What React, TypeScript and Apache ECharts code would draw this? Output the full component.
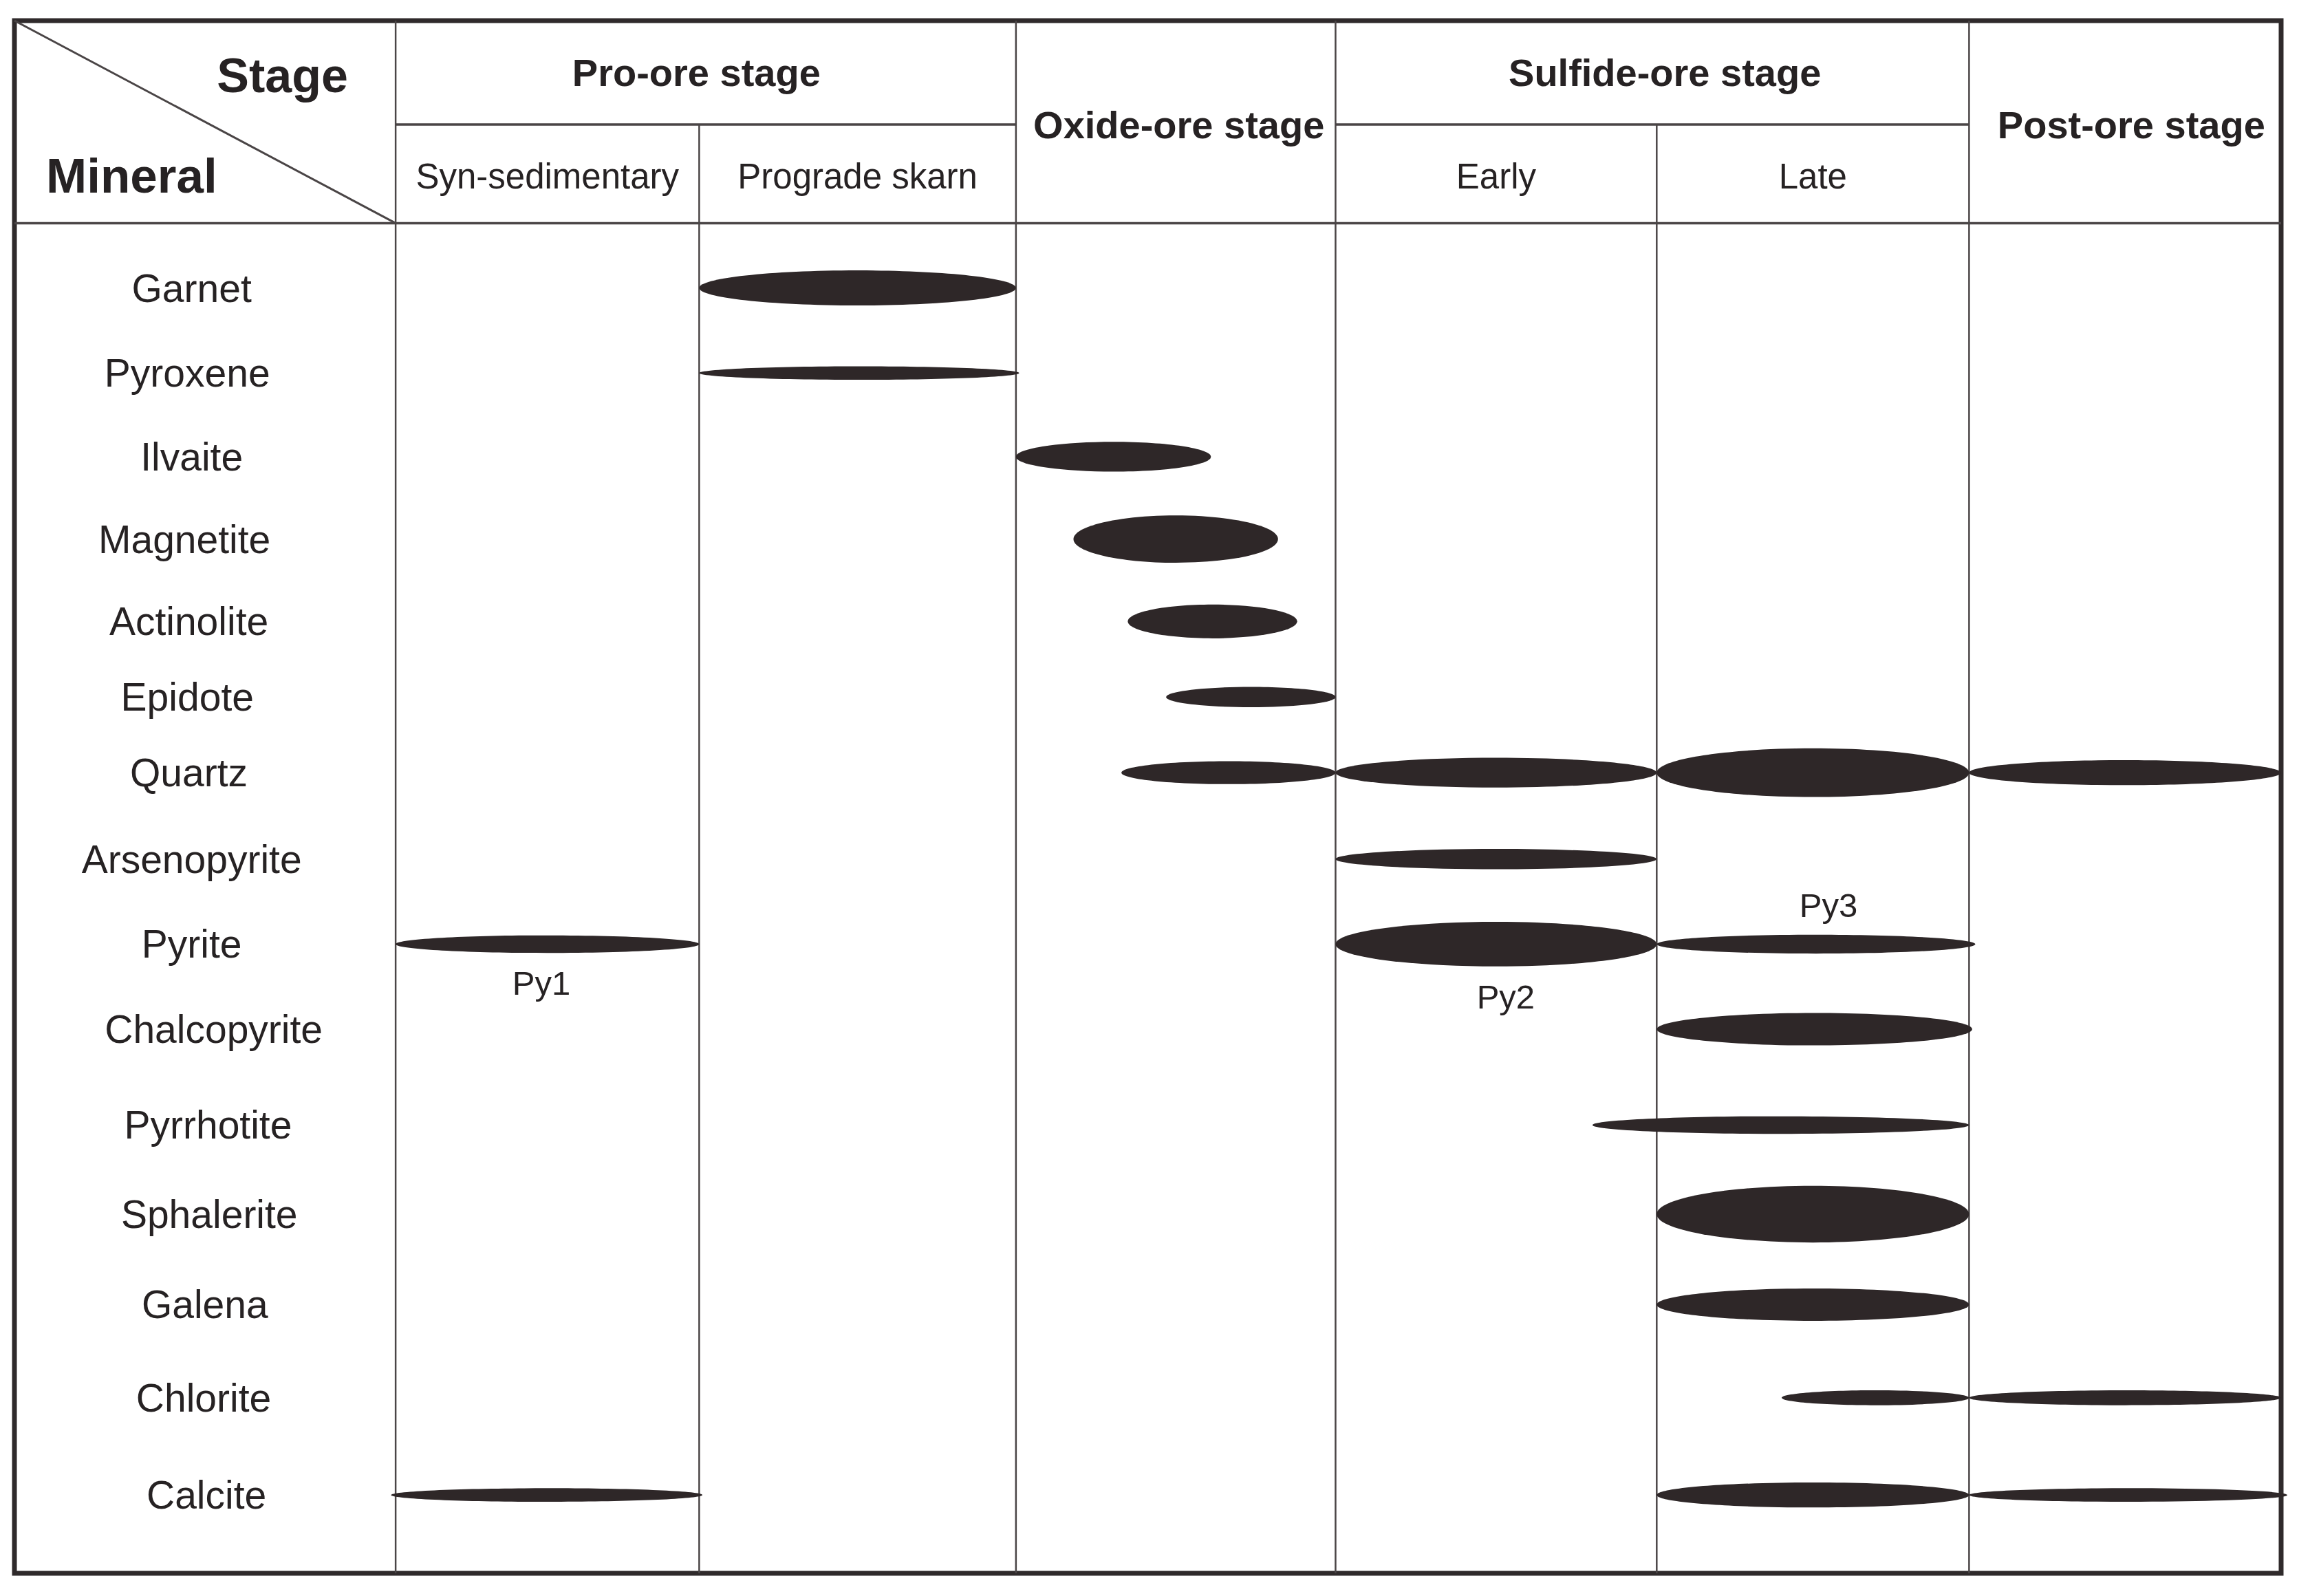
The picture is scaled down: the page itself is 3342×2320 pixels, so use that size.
import React, { useEffect, useRef } from "react";
import * as echarts from "echarts";

// ---------- data ----------
const minerals = [
  "Garnet", "Pyroxene", "Ilvaite", "Magnetite", "Actinolite", "Epidote", "Quartz",
  "Arsenopyrite", "Pyrite", "Chalcopyrite", "Pyrrhotite", "Sphalerite", "Galena",
  "Chlorite", "Calcite",
];
// row position of each mineral along the (inverted) y axis, body = 0..100
const mineralRows = [4.8, 11.1, 17.3, 23.4, 29.5, 35.1, 40.7, 47.1, 53.4, 59.7, 66.8, 73.4, 80.1, 87.0, 94.2];

const stageGroups = ["Pro-ore stage", "Oxide-ore stage", "Sulfide-ore stage", "Post-ore stage"];
const stageSpans = [[0, 2], [2, 3], [3, 5], [5, 6]];
const subStages = [["Syn-sedimentary", "Prograde skarn"], [], ["Early", "Late"], []];

// [mineral, start (stage units), end (stage units), relative abundance (thickness)]
const occurrences: [string, number, number, number][] = [
  ["Garnet", 1.0, 2.0, 2.6],
  ["Pyroxene", 1.0, 2.01, 1.0],
  ["Ilvaite", 2.0, 2.61, 2.2],
  ["Magnetite", 2.18, 2.82, 3.5],
  ["Actinolite", 2.35, 2.88, 2.5],
  ["Epidote", 2.47, 3.0, 1.5],
  ["Quartz", 2.33, 3.0, 1.7],
  ["Quartz", 3.0, 4.0, 2.2],
  ["Quartz", 4.0, 5.0, 3.6],
  ["Quartz", 5.0, 6.0, 1.85],
  ["Arsenopyrite", 3.0, 4.0, 1.5],
  ["Pyrite", 0.0, 1.0, 1.3],
  ["Pyrite", 3.0, 4.0, 3.3],
  ["Pyrite", 4.0, 5.02, 1.4],
  ["Chalcopyrite", 4.0, 5.01, 2.4],
  ["Pyrrhotite", 3.8, 5.0, 1.3],
  ["Sphalerite", 4.0, 5.0, 4.2],
  ["Galena", 4.0, 5.0, 2.4],
  ["Chlorite", 4.4, 5.0, 1.1],
  ["Chlorite", 5.0, 6.0, 1.1],
  ["Calcite", -0.015, 1.01, 1.0],
  ["Calcite", 4.0, 5.0, 1.85],
  ["Calcite", 5.0, 6.02, 1.0],
];

// pyrite generation labels: [label, x (stage units), y]
const pyriteLabels: [string, number, number][] = [
  ["Py1", 0.48, 56.3],
  ["Py2", 3.53, 57.3],
  ["Py3", 4.55, 50.5],
];

// ---------- layout constants (axis units) ----------
const X_MIN = -1.213;
const X_MAX = 6;
const Y_TOP = -15;
const Y_SPLIT = -7.3;
const Y_BOTTOM = 100;
// horizontal centre of each mineral name in the label column
const LABEL_X = [-0.649, -0.663, -0.649, -0.672, -0.658, -0.663, -0.658, -0.649, -0.649, -0.579, -0.597, -0.593, -0.607, -0.611, -0.602];
// small horizontal nudges of the stage titles
const GROUP_NUDGE = [-0.03, 0.01, 0.04, 0.02];
// column edges on the x axis (columns are drawn with slightly unequal widths)
const COLUMN_EDGES = [0, 0.966, 1.974, 2.991, 4.013, 5.007, 6];

const FONT = "'Liberation Sans', Arial, Helvetica, sans-serif";
const INK = "#262223";
const FILL = "#2e2728";

function toAxis(u: number): number {
  if (u <= 0) return u * (COLUMN_EDGES[1] - COLUMN_EDGES[0]);
  if (u >= 6) return COLUMN_EDGES[6] + (u - 6) * (COLUMN_EDGES[6] - COLUMN_EDGES[5]);
  const k = Math.min(5, Math.floor(u));
  return COLUMN_EDGES[k] + (u - k) * (COLUMN_EDGES[k + 1] - COLUMN_EDGES[k]);
}

export default function App() {
  const ref = useRef<HTMLDivElement>(null);

  useEffect(() => {
    if (!ref.current) return;
    const chart = echarts.init(ref.current, undefined, { renderer: "svg" });

    // table lines: [x1, y1, x2, y2, width]
    const lines: number[][] = [];
    stageSpans.forEach(([a, b], i) => {
      lines.push([toAxis(a), Y_TOP, toAxis(a), Y_BOTTOM, 2.5]);
      if (subStages[i].length) {
        lines.push([toAxis(a), Y_SPLIT, toAxis(b), Y_SPLIT, 3.5]);
        for (let j = 1; j < subStages[i].length; j++) {
          lines.push([toAxis(a + j), Y_SPLIT, toAxis(a + j), Y_BOTTOM, 2.5]);
        }
      }
    });
    lines.push([X_MIN, 0, X_MAX, 0, 3.5]);
    lines.push([X_MIN, Y_TOP, 0, 0, 3]);

    // texts
    type T = { text: string; x: number; y: number; size: number; bold: boolean };
    const texts: T[] = [];
    stageGroups.forEach((name, i) => {
      const [a, b] = stageSpans[i];
      const cx = (toAxis(a) + toAxis(b)) / 2 + GROUP_NUDGE[i];
      if (subStages[i].length) {
        texts.push({ text: name, x: cx, y: (Y_TOP + Y_SPLIT) / 2, size: 56, bold: true });
        subStages[i].forEach((s, j) => {
          texts.push({ text: s, x: toAxis(a + j + 0.5), y: Y_SPLIT / 2 + 0.2, size: 51, bold: false });
        });
      } else {
        texts.push({ text: name, x: cx, y: Y_TOP / 2 + 0.2, size: 56, bold: true });
      }
    });
    texts.push({ text: "Stage", x: -0.36, y: -10.9, size: 70, bold: true });
    texts.push({ text: "Mineral", x: -0.84, y: -3.5, size: 71, bold: true });
    minerals.forEach((m, i) => {
      texts.push({ text: m, x: LABEL_X[i], y: mineralRows[i], size: 57, bold: false });
    });
    pyriteLabels.forEach(([t, x, y]) => {
      texts.push({ text: t, x: toAxis(x), y, size: 49, bold: false });
    });

    const ellipseData = occurrences.map(([m, s, e, t]) => [
      toAxis(s), toAxis(e), mineralRows[minerals.indexOf(m)], t,
    ]);

    chart.setOption({
      animation: false,
      backgroundColor: "#ffffff",
      grid: {
        left: 21,
        right: 26,
        top: 30,
        bottom: 33,
        show: true,
        borderColor: "#2f2a2b",
        borderWidth: 7,
        backgroundColor: "#ffffff",
      },
      xAxis: {
        type: "value",
        min: X_MIN,
        max: X_MAX,
        show: false,
        splitLine: { show: false },
      },
      yAxis: {
        type: "value",
        min: Y_TOP,
        max: Y_BOTTOM,
        inverse: true,
        show: false,
        splitLine: { show: false },
      },
      series: [
        {
          type: "custom",
          name: "grid-lines",
          silent: true,
          data: lines,
          dimensions: ["x1", "y1", "x2", "y2", "w"],
          encode: { x: [0, 2], y: [1, 3] },
          renderItem: (params: any, api: any) => {
            const p1 = api.coord([api.value(0), api.value(1)]);
            const p2 = api.coord([api.value(2), api.value(3)]);
            return {
              type: "line",
              shape: { x1: p1[0], y1: p1[1], x2: p2[0], y2: p2[1] },
              style: { stroke: "#4a4546", lineWidth: api.value(4) },
            };
          },
        },
        {
          type: "custom",
          name: "occurrence",
          silent: true,
          data: ellipseData,
          dimensions: ["start", "end", "row", "abundance"],
          encode: { x: [0, 1], y: 2 },
          renderItem: (params: any, api: any) => {
            const p1 = api.coord([api.value(0), api.value(2)]);
            const p2 = api.coord([api.value(1), api.value(2)]);
            const h = Math.abs(api.size([0, api.value(3)])[1]);
            return {
              type: "ellipse",
              shape: { cx: (p1[0] + p2[0]) / 2, cy: p1[1], rx: Math.abs(p2[0] - p1[0]) / 2, ry: h / 2 },
              style: { fill: FILL },
            };
          },
        },
        {
          type: "custom",
          name: "texts",
          silent: true,
          data: texts.map((t) => [t.x, t.y]),
          encode: { x: 0, y: 1 },
          renderItem: (params: any, api: any) => {
            const t = texts[params.dataIndex];
            const p = api.coord([api.value(0), api.value(1)]);
            return {
              type: "text",
              x: p[0],
              y: p[1],
              style: {
                text: t.text,
                fill: INK,
                fontSize: t.size,
                fontWeight: t.bold ? "bold" : "normal",
                fontFamily: FONT,
                align: "center",
                verticalAlign: "middle",
              },
            };
          },
        },
      ],
    });

    return () => chart.dispose();
  }, []);

  return (
    <div
      ref={ref}
      style={{ position: "absolute", left: 0, top: 0, width: 3342, height: 2320, background: "#fff" }}
    />
  );
}
